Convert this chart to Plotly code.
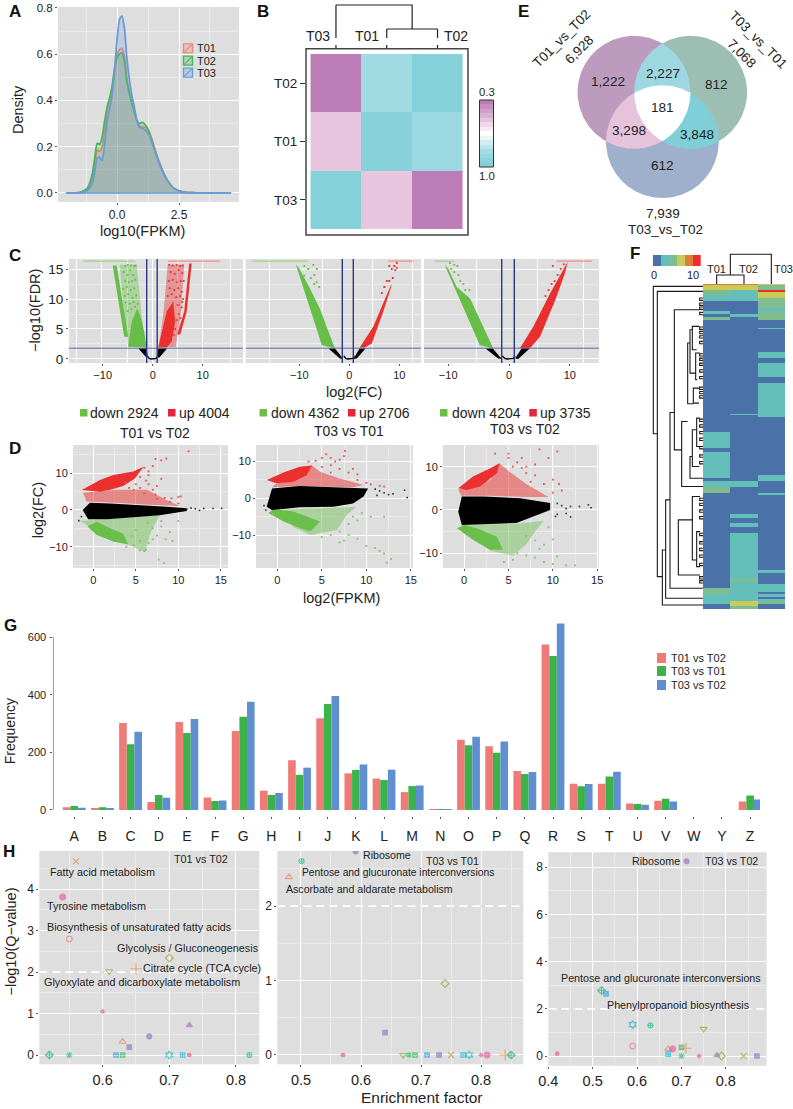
import numpy as np
import plotly.graph_objects as go

W, H = 793, 1109
FONT = "Liberation Sans"
INK = "#222222"
GREY = "#DEDEDE"

# ---------- A: density ----------
dens_x = [-2.06,-1.5,-1.2,-1.0,-.9,-.8,-.7,-.6,-.5,-.4,-.3,-.2,-.1,0,.1,.2,.3,.4,.5,.6,.7,.8,.9,1,1.1,1.2,1.3,1.4,1.5,1.7,2,2.3,2.6,3,4.6]
dens_t01 = [0,.002,.015,.06,.12,.185,.18,.2,.27,.35,.4,.45,.54,.6,.62,.625,.59,.49,.44,.39,.35,.31,.29,.285,.285,.28,.265,.235,.2,.135,.06,.02,.006,.001,0]
dens_t02 = [0,.003,.02,.08,.15,.215,.21,.24,.31,.37,.41,.46,.53,.585,.6,.605,.57,.48,.43,.39,.35,.315,.3,.305,.3,.285,.26,.23,.195,.13,.06,.02,.006,.001,0]
dens_t03 = [0,.001,.01,.04,.09,.15,.155,.14,.21,.31,.36,.42,.53,.66,.75,.765,.71,.58,.49,.42,.37,.315,.285,.28,.275,.265,.25,.22,.19,.13,.06,.02,.006,.001,0]

# ---------- B: correlation ----------
corr_labels_x = ["T03", "T01", "T02"]
corr_labels_y = ["T03", "T01", "T02"]
corr_z = [[.98, .51, .30], [.51, .97, .88], [.30, .86, .98]]
corr_levels = [1.0, .95, .9, .85, .8, .75, .7, .65, .6, .55, .5, .45, .4, .35, .3]

# ---------- E: venn ----------
venn_counts = ["1,222", "2,227", "812", "181", "3,298", "3,848", "612"]

# ---------- C: volcano outlines and sparse points ----------
v1_green_strip = ([-8, -7.2, -4.9, -5.7], [15.6, 15.6, 3.7, 3.7])
v1_green_haze = ([-6.6, -3.2, -2.2, -1.4, -4.9, -5.8], [15.7, 15.7, 7.3, 2, 2, 8])
v1_green_main = ([-4.9, -4.2, -3.1, -2.5, -1.7, -1.2], [2.05, 6.2, 8.4, 7.3, 4.6, 1.9])
v1_red_strip = ([7.3, 7.8, 6.8, 5.5, 4.9, 6.3], [15.9, 15.9, 7.9, 4.1, 4.1, 7.9])
v1_red_haze = ([3, 6.3, 5.6, 4.6, 1.2, 2.2], [15.7, 15.7, 7.5, 2, 2, 8])
v1_red_main = ([1.1, 1.8, 2.8, 4.1, 4.5, 3.8, 2.8], [1.9, 4.6, 7.9, 9.6, 6.2, 2.9, 1.9])
v1_black_l = ([-2.9, -1.2, -1.0, -1.2], [1.8, 1.8, .3, .2])
v1_black_r = ([1.0, 1.1, 2.9, 1.3], [.3, 1.8, 1.8, .2])
v1_sg_x = [-5.5,-5,-4.3,-3.7,-3.4,-5.8,-5,-4.5,-3.9,-5.5,-4.8,-4.1,-3.5,-5.9,-5.2,-4.4,-3.7,-5.6,-4.9,-4,-3.3,-5.4,-4.6,-3.8,-3,-5,-4.3,-3.5,-6.1,-5.8]
v1_sg_y = [15.5,15.7,15.6,15.5,15.6,14.5,14,14.8,14,13,12.8,13,13.2,11.7,12,11.5,11.8,10.5,10.8,10.2,10.6,9.4,9.2,9.5,9.2,8,8.3,8.7,9,7.5]
v1_sr_x = [3.3,4,4.8,5.5,6,3.6,4.4,5.2,5.9,3.2,4,4.8,5.6,6.2,3.4,4.3,5.1,5.8,3,3.8,4.7,5.5,6.1,5,5.8,5.2,4.8,5.5,4.5,4.2,5.9]
v1_sr_y = [15.7,15.6,15.7,15.5,15.6,14.5,14.2,14.8,14.3,13,13.2,12.8,13,13,11.8,11.5,11.8,11.2,10.5,10.8,10.3,10.5,10,9,8.6,7.5,6.5,6.8,5,4,9.5]
v1_top_green = [-13.9, -3.5]
v1_top_red = [3.1, 13.5]

v2_green_main = ([-10.7, -5.5, -2.9, -5.9, -8.2, -10], [15.8, 2.3, 1.8, 8.4, 12.3, 15.1])
v2_black_l = ([-4.2, -2.9, -1.2, -1.9], [1.8, 1.8, 0, .1])
v2_red_main = ([2.1, 4.8, 7.5, 8.5, 8.3, 6.8, 4.5, 3.1], [1.9, 5.4, 10.7, 12.6, 11.8, 7.9, 2.6, 1.9])
v2_black_r = ([.8, 2.1, 3.3, 1.5], [0, 1.8, 1.8, .1])
v2_sg_x = [-9,-8.2,-7.2,-7,-7.7,-6.5,-6.5,-6,-7,-9]
v2_sg_y = [15.5,15,15.7,14,13.5,12.8,15,12,12.5,13.9]
v2_sr_x = [9.5,9,8.5,9.2,8,8.7,8,7.5,7,6.5,9.5]
v2_sr_y = [16,15.5,15,14.8,15.5,13.5,13,13,12,11,15.2]
v2_top_green = [-19.5, -8.2]
v2_top_red = [7.8, 12.8]

v3_green_main = ([-10.6, -4.8, -2.6, -6.4, -8.6, -10], [15.7, 2.3, 1.8, 10.1, 12, 15.1])
v3_black_l = ([-3.9, -2.7, -1.2, -1.8], [1.8, 1.8, 0, .1])
v3_red_main = ([1.8, 4, 6.75, 9.65, 9.2, 7.6, 5.1, 3.45], [1.8, 5.4, 10.9, 16.2, 14.3, 9.8, 3.7, 1.8])
v3_black_r = ([1, 2.1, 3.45, 1.5], [.1, 1.8, 1.8, 0])
v3_sg_x = [-9.7,-9,-8.5,-9,-8.3,-8,-7.5,-7.2,-6.5,-9.5]
v3_sg_y = [16,15.7,15.5,14.5,14,13,12.5,11.5,11.5,15]
v3_sr_x = [8.5,8,7.5,7,6.5,6,9,7.8,7.2]
v3_sr_y = [15,14,13,12.5,11.5,10.5,15.8,12,15.5]
v3_top_green = [-12.2, -9]
v3_top_red = [7.8, 13.6]

centre_x = [-1.1, -.7, -.3, 0, .3, .7, 1.0]
centre_y = [.5, .1, 0, 0, 0, .1, .5]

# ---------- D: MA outlines and sparse points ----------
m1_black = ([-1.25,-.4,2,5.5,8.6,11,11,7.8,4.7,1.6,-.6], [0,2,1.8,1.4,.9,.45,-.3,-1.4,-2,-2.5,-2.5])
m1_red_d = ([-1.37,.78,2.35,4.7,5.9,4.9,3.5,2,.8], [5.45,8.2,9.5,10.5,11.8,8.6,6.5,5.5,5])
m1_red_l = ([-1.2,2.7,6.3,8.6,10.2,6.7,2.7,-.8], [4.7,5.5,5.5,2.7,1.1,1.4,2,2.3])
m1_green_d = ([-.7,.4,2.35,4.1,3.5,2,.4], [-4.5,-6.8,-8.6,-9.3,-6.4,-5,-3.2])
m1_green_l = ([-1.6,1.6,5.5,7.8,6.7,6.1,3.9,2.35], [-2.9,-2.5,-1.8,-1.4,-6.4,-11.4,-9.3,-8.6])
m1_sr_x = [6,6.5,7,7.3,8,8.6,5.5,6.2,5.5,6.5,7,7.5,7.3,8.4,9.2,10,10.3,11.2,9,10,8,6.5,7.5,6,5,4.8,4.2,3.8]
m1_sr_y = [11.5,10.5,12,13.9,13.5,14,9,8,6,7,5.5,6.5,4.2,3.3,3.2,3.5,3.7,16,2.2,1.8,8.5,9.5,3,4.5,7,5.5,6,7.3]
m1_sg_x = [6.2,6,6.5,7,7.5,7.7,8.3,8.5,9.3,7,8,9,5,4.5,5.5,10,6.4,8,3.9,4.8,5.5]
m1_sg_y = [-10.8,-11.2,-9,-8,-7,-13.5,-14.5,-8,-8.5,-5,-4.5,-6,-5.5,-7,-8.5,-3,-3.5,-3,-10,-9.5,-11]
m1_sk_x = [11,12,12.5,13,14.1,15.1,11.5,-1.4,-1.7]
m1_sk_y = [.2,.3,-.1,.4,.4,.45,.5,-1.8,-2.9]

m2_black = ([-.6,2.5,6.3,9.3,10.2,9.7,8.5,6.3,2.5,-.6,-1.2], [2.7,3.35,3,2.7,2.7,.5,-1.4,-2.3,-2.45,-3.2,-2.3])
m2_red_d = ([-1.2,.7,2.5,3.9,3.3,1.8,-.1], [5,7,8.6,8.9,6.3,4.5,4.1])
m2_red_l = ([-.6,-.1,.7,3.9,4.8,7,9.7,8.5,2.5], [3,4.1,7,8.9,7.2,5.4,3.6,3,3.35])
m2_green_d = ([-1,.7,2.5,3.7,4.8,1.8,-.45], [-4,-6.3,-8.1,-9,-6.3,-3.6,-3])
m2_green_l = ([-.1,8.9,7.8,6.7,3.7,1.8], [-3.2,-2.3,-4.5,-8.6,-10,-7.8])
m2_sr_x = [3.5,4.3,5,5.5,6,6.5,7,7.5,7.6,6,5,7,8,8.5,9,10,10.5,11.5,12,9,6]
m2_sr_y = [10,10.2,11,12,11,10,10.5,11.5,12.9,9,8.5,8,7,8,5,4.2,3.8,3.4,3.2,6.5,7]
m2_sg_x = [7,8,9,10,11,11.5,12,12.8,12.3,8,9,9.5,10.5,12,7.5,7,6,5,8.5]
m2_sg_y = [-9,-10,-11,-13,-13.5,-14.3,-15,-16.5,-17.5,-7,-6,-4,-5,-5,-11.5,-12,-10,-10.5,-5]
m2_sk_x = [11,11.5,12,12.5,14.3,14.6,13,11.2,-1.3,-1.5]
m2_sk_y = [2.5,2,1.5,1,2.2,.2,1.2,.8,-3.2,-2]

m3_black = ([-.65,-.25,2.2,6.3,9.7,9.7,5.9,2.2,-.25], [-.4,3.1,3.1,2.7,1.6,0,-3,-3.2,-3.5])
m3_red_d = ([-.65,1,2.9,4,3.7,1.8,.3], [5,7.7,9.6,10.8,8.5,5.4,4.6])
m3_red_l = ([-.3,-.65,3,4,5,7,9.5,7,3], [3.3,4.7,7,10.8,9,6,3,3,3.3])
m3_green_d = ([-.8,1,2.9,4.4,3.7,1.4,0], [-4.2,-6.9,-9.2,-9.2,-6.2,-4.2,-3.5])
m3_green_l = ([-.3,3,6,9,8,7,5.5,3], [-3.4,-3.3,-3.2,-2.5,-5,-8,-10.5,-9.5])
m3_sr_x = [5,6,6.5,7,8,8.5,10.5,9.5,8,9,10,10.7,11,10,5.5,7,6.5,7.5,5,3.5]
m3_sr_y = [12,11,12,10,10.5,14,13.5,12,8,6,7,6,4.5,4,10,8.5,9.7,6.5,13,13]
m3_sg_x = [6,7,8,9,10,11.5,12.5,9,10,7,8,9.5,5.5,4.5,8.5,10.5]
m3_sg_y = [-10,-10.5,-11,-12,-12.5,-12.8,-12.8,-8,-6.8,-6,-7,-4,-11.5,-12,-9,-10.7]
m3_sk_x = [11,11.5,12,13,14.3,10.5,14,10.3,10.5,11.5,12]
m3_sk_y = [1,.3,.8,.8,.5,1.5,1.2,-1.5,-1,-.8,-1.6]

# ---------- F: gene clusters (row edges, colour class per column) ----------
gene_edges = [163,167,182,187,195,205,215,235,245,252,262,272,295,298,366,385,400,443,460,552,555,563,607,622,655,665,735,745,752,760,772,790,795,852,865,878,892,908,1020,
              1028,1047,1057,1061,1073,1085,1093,1100,1106,1113,1123,1129,1137]
gene_t01 = [4,3,2,2,1,1,0,0,1,0,2,0,0,0,0,0,0,0,0,0,0,0,1,1,0,1,1,0,1,1,2,0,0,0,0,0,0,0, 0,0,0,0,0,2,2,1,1,1,1,0,0]
gene_t02 = [4,3,1,1,1,1,0,0,0,1,0,0,0,0,0,0,0,0,0,1,0,0,0,0,0,0,0,0,1,1,0,0,0,1,0,1,0,1, 1,1,2,1,1,1,1,1,1,1,3,3,2]
gene_t03 = [3,2,5,3,3,2,2,1,2,2,2,0,1,0,1,0,1,0,1,1,1,0,0,0,0,0,1,1,0,0,0,1,0,0,0,0,0,0, 1,0,0,0,1,1,0,1,0,1,2,0,0]
gene_cols = ["T01", "T02", "T03"]
gene_brackets = [(460,170,609,612,472),(472,185,609,1040,487),(487,960,497,1125,609),(497,810,510,1105,609),
                 (510,548,523,1075,609),(523,240,598,660,545),(545,575,563,770,609),(563,340,570,522,580),
                 (570,300,577,430,587),(577,290,598,360,590),(587,370,600,450,592),(580,475,597,520,597),
                 (570,680,577,745,609),(577,600,590,710,598),(590,565,600,650,600),(535,870,577,1035,600),
                 (577,800,600,990,590),(590,905,600,1010,600)]
gene_leaf_rows = [205,220,232,248,292,305,318,335,372,385,400,420,440,472,485,498,568,585,605,625,650,675,695,805,820,840,860,910,935,955,975,1000,1040,1052]

# ---------- G: functional classes ----------
cog_letters = list("ABCDEFGHIJKLMNOPQRSTUVWYZ")
cog_t01_t02 = [9,5,302,28,306,43,274,67,173,319,127,109,62,1,244,221,135,575,91,91,22,32,0,0,29]
cog_t03_t01 = [14,9,228,52,267,31,324,52,122,368,139,104,83,2,225,199,125,535,82,116,21,39,0,0,50]
cog_t03_t02 = [8,7,272,42,316,33,376,59,147,396,158,140,85,3,254,238,132,648,90,133,18,29,0,0,36]

# ---------- H: enrichment ----------
h1_x = [.56,.54,.55,.70,.61,.65,.60,.73,.67,.63,.64,.52,.55,.62,.63,.70,.72,.73,.82]
h1_y = [4.67,3.81,2.8,2.34,2.02,2.08,1.05,.72,.45,.32,.19,0,0,0,0,0,0,0,0]
h1_k = ["xt","pk","co","do","td","cr","sd","tu","pu","to","sq","dc","as","sx","sg","hx","sc","rd","cc"]
h2_x = [.591,.501,.48,.74,.64,.57,.67,.68,.69,.71,.73,.75,.77,.78,.80,.81,.84,.85]
h2_y = [2.735,2.606,2.39,.96,.3,0,0,0,0,0,0,0,0,0,0,0,0,0]
h2_k = ["pu","cc","to","do","sq","rd","td","as","sg","sx","sq","xt","sc","hx","sd","pk","cr","dc"]
h3_x = [.7115,.52,.53,.59,.63,.75,.59,.67,.68,.70,.71,.67,.42,.70,.74,.78,.79,.84,.87]
h3_y = [8.25,2.78,2.63,1.33,1.3,1.15,.42,.3,.3,.37,.33,.08,.1,0,0,.03,0,0,0]
h3_k = ["pu","dc","sx","hx","cc","td","co","to","pk","sg","cr","sc","rd","as","sd","tu","do","xt","sq"]
STYLES = {"xt": ("x-thin-open", "#B79F4C", 6), "pk": ("circle", "#E5679F", 6), "co": ("circle-open", "#E88088", 5.5),
          "do": ("diamond-open", "#A3A33C", 6), "td": ("triangle-down-open", "#7DB03F", 6), "cr": ("cross-thin-open", "#E8923A", 8),
          "sd": ("diamond", "#D86AA8", 3), "tu": ("triangle-up", "#A779B8", 5.5), "pu": ("circle", "#9578C0", 5),
          "to": ("triangle-up-open", "#E28A5A", 6), "sq": ("square", "#8088C8", 4.5), "dc": ("diamond-cross-open", "#2EB87D", 6),
          "as": ("asterisk-open", "#2EC27A", 5.5), "sx": ("square-x-open", "#30A8E0", 4.5), "sg": ("square-x-open", "#44BB66", 4.5),
          "hx": ("hexagram-open", "#18BEC8", 6), "sc": ("square-cross-open", "#22B8D8", 4.5), "rd": ("circle", "#EC5F87", 3.5),
          "cc": ("circle-cross-open", "#20BFA0", 5)}

fig = go.Figure()
shapes, annos = [], []
layout = {}
_n = [0]


def fx(p):
    return p / W


def fy(p):
    return 1 - p / H


def txt(x, y, s, size=12, anchor="center", angle=0, bold=False, color=INK):
    annos.append(dict(x=fx(x), y=fy(y), xref="paper", yref="paper", text=f"<b>{s}</b>" if bold else s, showarrow=False,
                      xanchor=anchor, yanchor="middle", textangle=angle, borderpad=0,
                      font=dict(size=size, family=FONT, color=color)))


def rect(x0, y0, x1, y1, fill, line=None, lw=0, layer="above"):
    shapes.append(dict(type="rect", xref="paper", yref="paper", x0=fx(x0), x1=fx(x1), y0=fy(y1), y1=fy(y0), fillcolor=fill,
                       line=dict(color=line or fill, width=lw), layer=layer))


def seg(x0, y0, x1, y1, color, lw):
    shapes.append(dict(type="line", xref="paper", yref="paper", x0=fx(x0), x1=fx(x1), y0=fy(y0), y1=fy(y1), line=dict(color=color, width=lw)))


def panel(x0, x1, y0, y1, xr, yr, xtick=None, ytick=None, xsize=12, ysize=12, xminor=None, yminor=None, xgrid=None,
          ygrid=True, bg=True, xshow=True, yshow=True, xtext=None, ytext=None):
    _n[0] += 1
    i = _n[0]
    s = "" if i == 1 else str(i)
    xa = dict(domain=[fx(x0), fx(x1)], range=xr, anchor="y" + s, zeroline=False, showgrid=False, fixedrange=True, showline=False,
              automargin=False, tickfont=dict(size=xsize, family=FONT, color=INK), ticks="", showticklabels=False)
    ya = dict(domain=[fy(y1), fy(y0)], range=yr, anchor="x" + s, zeroline=False, showgrid=False, fixedrange=True, showline=False,
              automargin=False, tickfont=dict(size=ysize, family=FONT, color=INK), ticks="", showticklabels=False)
    if xtick is not None:
        xa.update(tickmode="array", tickvals=xtick, showgrid=xgrid is None and bg)
        if xtext:
            xa["ticktext"] = xtext
        if xshow:
            xa.update(showticklabels=True, ticks="outside", ticklen=2, tickcolor="#555", tickwidth=1)
        xa.update(gridcolor="white", gridwidth=1.4)
    if ytick is not None:
        ya.update(tickmode="array", tickvals=ytick, showgrid=ygrid and bg, gridcolor="white", gridwidth=1.4)
        if ytext:
            ya["ticktext"] = ytext
        if yshow:
            ya.update(showticklabels=True, ticks="outside", ticklen=2, tickcolor="#555", tickwidth=1)
    if xgrid is not None:
        xa["minor"] = dict(tickmode="array", tickvals=xgrid, showgrid=True, gridcolor="white", gridwidth=1.4, ticks="")
    elif xminor is not None:
        xa["minor"] = dict(tickmode="array", tickvals=xminor, showgrid=True, gridcolor="#EBEBEB", gridwidth=.7, ticks="")
    if yminor is not None:
        ya["minor"] = dict(tickmode="array", tickvals=yminor, showgrid=True, gridcolor="#EBEBEB", gridwidth=.7, ticks="")
    layout["xaxis" + s] = xa
    layout["yaxis" + s] = ya
    if bg:
        rect(x0, y0, x1, y1, GREY, layer="below")
    return dict(xaxis="x" + s, yaxis="y" + s)


def poly(ax, pts, color):
    fig.add_trace(go.Scatter(x=list(pts[0]) + [pts[0][0]], y=list(pts[1]) + [pts[1][0]], mode="lines", fill="toself", fillcolor=color,
                             line=dict(width=0, color=color), hoverinfo="skip", **ax))


def dots(ax, xs, ys, color, size=2):
    fig.add_trace(go.Scatter(x=xs, y=ys, mode="markers", marker=dict(color=color, size=size, symbol="square", line=dict(width=0)), hoverinfo="skip", **ax))


def line(ax, xs, ys, color, w=1.2, dash=None):
    fig.add_trace(go.Scatter(x=xs, y=ys, mode="lines", line=dict(color=color, width=w, dash=dash), hoverinfo="skip", **ax))


# ---- A ----
ax = panel(58, 239, 7, 202, [-2.38, 4.92], [-.039, .804], xtick=[0, 2.5], ytick=[0, .2, .4, .6, .8], xsize=12, ysize=11.5,
           xtext=["0.0", "2.5"], ytext=["0.0", "0.2", "0.4", "0.6", "0.8"], xminor=[-1.25, 1.25, 3.75], yminor=[.1, .3, .5, .7])
for name, vals, col, fc in [("T01", dens_t01, "#F4837D", "rgba(244,131,125,.27)"), ("T02", dens_t02, "#45B75A", "rgba(69,183,90,.27)"),
                            ("T03", dens_t03, "#6A9BD8", "rgba(106,155,216,.27)")]:
    fig.add_trace(go.Scatter(x=dens_x, y=vals, name=name, mode="lines", fill="tozeroy", fillcolor=fc,
                             line=dict(color=col, width=1.8, shape="spline", smoothing=.6), **ax))
line(ax, [dens_x[0], dens_x[-1]], [0, 0], "#6A9BD8", 1.6)
for lab, yy, col, fc in [("T01", 48.3, "#F4837D", "rgba(244,131,125,.3)"), ("T02", 60.7, "#45B75A", "rgba(69,183,90,.3)"), ("T03", 72.7, "#6A9BD8", "rgba(106,155,216,.3)")]:
    rect(183.5, yy - 4.5, 192.5, yy + 4.5, fc, col, 1.3)
    seg(183.5, yy + 4.5, 192.5, yy - 4.5, col, 1.1)
    txt(196, yy, lab, 11, "left")
txt(18, 110, "Density", 14.5, angle=-90)
txt(142.7, 230.7, "log10(FPKM)", 14.5)

# ---- B ----
cs = [[0, "#BC7DB6"], [.3, "#E8C6DF"], [.5, "#FFFFFF"], [.8, "#A0DAE2"], [1, "#80CFD9"]]
ax = panel(306, 468, 48.7, 235, [-.59, 2.6], [-.6, 2.59], xtick=[0, 1, 2], ytick=[0, 1, 2], xshow=False, ysize=13.5, ytext=corr_labels_y, bg=False)
fig.add_trace(go.Heatmap(x=[0, 1, 2], y=[0, 1, 2], z=corr_z, zmin=.3, zmax=1, colorscale=cs, showscale=False, hoverinfo="skip", **ax))
layout["yaxis" + ax["yaxis"][1:]].update(ticklen=5, tickcolor="#333", tickwidth=1.4)
rect(306, 48.7, 468, 235, "rgba(0,0,0,0)", "#444", 1.5)
ax = panel(306, 468, 0, 48.7, [-.59, 2.6], [0, 48.7], bg=False)
line(ax, [1, 1, None, 1, 1, None, 2, 2, None, 2, 2, None, 0, 0, None, 0, 0], [19.7, 10.7, None, 3.7, 0, None, 19.7, 10.7, None, 3.7, 0, None, 43.7, 10.7, None, 3.7, 0], "#222", 1.2)
line(ax, [1, 1, 2, 2, None, 0, 0, 1.5, 1.5], [19.7, 19.7, 19.7, 19.7, None, 43.7, 43.7, 43.7, 19.7], "#222", 1.2)
for lab, xx in zip(corr_labels_x, [318, 367, 456]):
    txt(xx, 36, lab, 14)
ax = panel(479.5, 493.5, 100, 167, [-.5, .5], [1.025, .275], bg=False)
fig.add_trace(go.Heatmap(x=[0], y=corr_levels, z=[[v] for v in corr_levels], zmin=.3, zmax=1, colorscale=cs, showscale=False, hoverinfo="skip", **ax))
rect(479.5, 100, 493.5, 167, "rgba(0,0,0,0)", "#333", 1)
txt(486.5, 92, "0.3", 11.3)
txt(486.5, 176, "1.0", 11.3)

# ---- E ----
circles = [(634, 92.3, 56.5), (690.6, 92.3, 56.5), (662.4, 141.7, 56.4)]
ax = panel(570, 750, 30, 205, [570, 750], [205, 30], bg=False)


def region(idx):
    pts = []
    th = np.linspace(0, 2 * np.pi, 900, endpoint=False)
    for i in idx:
        cx, cy, r = circles[i]
        for xx, yy in zip(cx + r * np.cos(th), cy + r * np.sin(th)):
            if all((xx - circles[j][0]) ** 2 + (yy - circles[j][1]) ** 2 <= circles[j][2] ** 2 for j in idx if j != i):
                pts.append((xx, yy))
    p = np.array(pts)
    c = p.mean(axis=0)
    p = p[np.argsort(np.arctan2(p[:, 1] - c[1], p[:, 0] - c[0]))]
    return p[:, 0].tolist(), p[:, 1].tolist()


for idx, col in [((2,), "#9EB0CC"), ((1,), "#9DBFB3"), ((0,), "#BC9BBF"), ((0, 1), "#9DD8E0"), ((0, 2), "#E5C3DD"), ((1, 2), "#7FCFD8"), ((0, 1, 2), "#FFFFFF")]:
    poly(ax, region(idx), col)
for lab, (xx, yy) in zip(venn_counts, [(607.7, 81.7), (663.3, 73.3), (716.7, 84), (662.3, 107.3), (629.3, 130.7), (697.3, 134), (662, 165.7)]):
    txt(xx, yy, lab, 13.6)
txt(561.7, 38.3, "T01_vs_T02", 13.5, angle=-45)
txt(579.3, 49.3, "6,928", 13.5, angle=-45)
txt(758, 39.3, "T03_vs_T01", 13.5, angle=45)
txt(741.7, 53.3, "7,068", 13.5, angle=45)
txt(663.3, 213.3, "7,939", 13.5)
txt(665, 229, "T03_vs_T02", 13.5)

# ---- C ----
G, R = "#66BE49", "#E9302F"
GH, RH = "rgba(110,195,85,.45)", "rgba(233,60,60,.45)"
vy = [-.67, 16.67]
vt = [0, 5, 10, 15]
vpanels = [
    (69, 243, [-16.74, 18.06], [-10, 0, 10], [-10.3, 0, 10, -15.2, -5, 5, 15.5], True,
     (-1.2, .9), [(v1_green_haze, GH), (v1_red_haze, RH), (v1_green_strip, G), (v1_green_main, G), (v1_red_strip, R), (v1_red_main, R), (v1_black_l, "#000"), (v1_black_r, "#000")],
     (v1_sg_x, v1_sg_y), (v1_sr_x, v1_sr_y), v1_top_green, v1_top_red),
    (245.7, 421, [-20.72, 14.34], [-10, 0, 10], [-15.9, -5.3, 4.7, 12.7], False,
     (-1.4, .8), [(v2_green_main, G), (v2_red_main, R), (v2_black_l, "#000"), (v2_black_r, "#000")],
     (v2_sg_x, v2_sg_y), (v2_sr_x, v2_sr_y), v2_top_green, v2_top_red),
    (424, 599, [-13.98, 14.8], [-10, 0, 10], [-5.3, 4.7, 12.2], False,
     (-1.2, .87), [(v3_green_main, G), (v3_red_main, R), (v3_black_l, "#000"), (v3_black_r, "#000")],
     (v3_sg_x, v3_sg_y), (v3_sr_x, v3_sr_y), v3_top_green, v3_top_red),
]
for x0, x1, xr, xt, xg, showy, vl, polys, sg, sr, tg, tr in vpanels:
    ax = panel(x0, x1, 259, 363, xr, vy, xtick=xt, ytick=vt, xsize=11, ysize=13.5, xgrid=xg, yshow=showy, yminor=[2.5, 7.5, 12.5])
    for p, c in polys:
        poly(ax, p, c)
    line(ax, centre_x, centre_y, "#000", 1.4)
    dots(ax, sg[0], sg[1], G, 1.8)
    dots(ax, sr[0], sr[1], R, 1.8)
    line(ax, tg, [16.3, 16.3], "#9CD286", 1.2)
    line(ax, tr, [16.3, 16.3], "#F08E8E", 1.2)
    line(ax, xr, [1.8, 1.8], "#5A6AAE", 1)
    line(ax, [vl[0], vl[0]], vy, "#2C3A86", 1.4)
    line(ax, [vl[1], vl[1]], vy, "#2C3A86", 1.4)
txt(35, 311, "\u2212log10(FDR)", 14.5, angle=-90)
txt(354, 391.7, "log2(FC)", 14.5)

# ---- D ----
mpanels = [
    (73, 228, [-2.39, 15.85], [17.7, -15.8], [-10, 0, 10], [-15, -5, 5, 15],
     (m1_green_l, m1_red_l, m1_green_d, m1_red_d, m1_black), (m1_sr_x, m1_sr_y), (m1_sg_x, m1_sg_y), (m1_sk_x, m1_sk_y)),
    (256, 413, [-2.4, 15.25], [14.5, -18.95], [-10, 0, 10], [-15, -5, 5],
     (m2_green_l, m2_red_l, m2_green_d, m2_red_d, m2_black), (m2_sr_x, m2_sr_y), (m2_sg_x, m2_sg_y), (m2_sk_x, m2_sk_y)),
    (443, 599, [-2.37, 15.2], [15, -13.4], [-10, 0, 10], [-5, 5],
     (m3_green_l, m3_red_l, m3_green_d, m3_red_d, m3_black), (m3_sr_x, m3_sr_y), (m3_sg_x, m3_sg_y), (m3_sk_x, m3_sk_y)),
]
for x0, x1, xr, yr, yt, ym, polys, sr, sg, sk in mpanels:
    ax = panel(x0, x1, 445, 568, xr, [yr[1], yr[0]], xtick=[0, 5, 10, 15], ytick=yt, xsize=11, ysize=11, xminor=[2.5, 7.5, 12.5], yminor=ym)
    gl, rl, gd, rd, bk = polys
    poly(ax, gl, "rgba(118,196,92,.5)")
    poly(ax, rl, "rgba(233,48,47,.5)")
    poly(ax, gd, "#6ABF4B")
    poly(ax, rd, "#EC2F2F")
    poly(ax, bk, "#000000")
    dots(ax, sr[0], sr[1], "#E9504F", 1.8)
    dots(ax, sg[0], sg[1], "#7CC663", 1.8)
    dots(ax, sk[0], sk[1], "#333", 1.6)
for xa, tx, xb, ux, down, up in [(80, 89.3, 168, 177.7, "down 2924", "up 4004"), (259.5, 270, 348, 358, "down 4362", "up 2706"), (440, 450.7, 529.3, 539.3, "down 4204", "up 3735")]:
    rect(xa, 409, xa + 7.5, 416.5, "#6ABD45")
    txt(tx, 412.7, down, 14, "left")
    rect(xb, 409, xb + 7.5, 416.5, "#E5263A")
    txt(ux, 412.7, up, 14, "left")
txt(155, 433, "T01 vs T02", 14)
txt(349, 430.7, "T03 vs T01", 14)
txt(525, 429, "T03 vs T02", 14)
txt(38.3, 510, "log2(FC)", 14.5, angle=-90)
txt(341, 598.3, "log2(FPKM)", 14.5)

# ---- F ----
fcs = ["#4A72A8", "#64BFBA", "#80BD8E", "#C9CB58", "#E07B3A", "#EE2E2E"]
fscale = []
for i, c in enumerate(fcs):
    fscale += [[i / 6, c], [(i + 1) / 6, c]]
ax = panel(703, 785, 284, 609, [-.5, 2.5], [1137, 163], bg=False)
fig.add_trace(go.Heatmap(x=[0, 1, 2], y=gene_edges, z=[list(t) for t in zip(gene_t01, gene_t02, gene_t03)], zmin=0, zmax=6,
                         colorscale=fscale, showscale=False, hoverinfo="skip", **ax))
ax = panel(651, 703, 284, 609, [453, 609], [1137, 163], bg=False)
bx, by = [], []
for h, y1, h1, y2, h2 in gene_brackets:
    bx += [h1, h, h, h2, None]
    by += [y1, y1, y2, y2, None]
for r in gene_leaf_rows:
    bx += [609, 599, 599, 609, None]
    by += [r, r, r + 7, r + 7, None]
line(ax, bx, by, "#1A1A1A", 1.1)
ax = panel(703, 785, 250, 284, [-.5, 2.5], [0, 34], bg=False)
line(ax, [0, 0, 1, 1, None, .5, .5, 2, 2], [0, 9, 9, 0, None, 9, 29.7, 29.7, 0], "#1A1A1A", 1.1)
for lab, xx in zip(gene_cols, [716, 748.7, 783]):
    txt(xx, 269, lab, 11)
ax = panel(652.7, 701, 255, 266, [-.5, 5.5], [-.5, .5], bg=False)
fig.add_trace(go.Heatmap(x=list(range(6)), y=[0], z=[list(range(6))], zmin=0, zmax=6, colorscale=fscale, showscale=False, hoverinfo="skip", **ax))
txt(654, 275, "0", 11)
txt(693, 275, "10", 11)

# ---- G ----
BARC = ["#F07A75", "#3CB34A", "#5F8FD0"]
ax = panel(53.4, 760, 620, 816, [-.74, 24.35], [-21, 660], xtick=list(range(25)), ytick=[0, 200, 400, 600], xsize=14, ysize=11, xtext=cog_letters, bg=False)
layout["xaxis" + ax["xaxis"][1:]]["ticklabelstandoff"] = 5
layout["yaxis" + ax["yaxis"][1:]]["ticklabelstandoff"] = 2
for name, vals, c in zip(["T01 vs T02", "T03 vs T01", "T03 vs T02"], [cog_t01_t02, cog_t03_t01, cog_t03_t02], BARC):
    fig.add_trace(go.Bar(x=list(range(25)), y=vals, name=name, marker=dict(color=c, line=dict(width=0)), **ax))
seg(53.4, 637, 53.4, 810, "#999", 1)
for name, yy, c in zip(["T01 vs T02", "T03 vs T01", "T03 vs T02"], [658, 671, 685], BARC):
    rect(657, yy - 5, 666, yy + 5, c)
    txt(669.5, yy, name, 11, "left")
txt(9.5, 731.7, "Frequency", 14, angle=-90)

# ---- H ----
hp = [
    (39.3, 259.3, 851, 1064.3, [.505, .835], [-.224, 4.92], [.6, .7, .8], [0, 1, 2, 3, 4], [.55, .65, .75], [.5, 1.5, 2.5, 3.5, 4.5], h1_x, h1_y, h1_k),
    (277.3, 523.3, 851, 1064.3, [.4606, .8703], [-.125, 2.74], [.5, .6, .7, .8], [0, 1, 2], [.55, .65, .75, .85], [.5, 1.5, 2.5], h2_x, h2_y, h2_k),
    (548.3, 766.7, 852.3, 1065.7, [.4, .892], [-.41, 8.63], [.4, .5, .6, .7, .8], [0, 2, 4, 6, 8], [.45, .55, .65, .75, .85], [1, 3, 5, 7], h3_x, h3_y, h3_k),
]
for x0, x1, y0, y1, xr, yr, xt, yt, xm, ym, xs, ys, ks in hp:
    ax = panel(x0, x1, y0, y1, xr, yr, xtick=xt, ytick=yt, xsize=14.5, ysize=12, xminor=xm, yminor=ym, xtext=[f"{v:.1f}" for v in xt])
    line(ax, xr, [2, 2], GREY, 2.4)
    line(ax, xr, [2, 2], "white", 1.8, "8px,5px")
    cols = [STYLES[k][1] for k in ks]
    fig.add_trace(go.Scatter(x=xs, y=ys, mode="markers", hoverinfo="skip", marker=dict(symbol=[STYLES[k][0] for k in ks], size=[STYLES[k][2] for k in ks],
                             color=cols, line=dict(color=cols, width=1.2)), **ax))
for xx, yy, s, sz in [(49.3, 872.3, "Fatty acid metabolism", 10.8), (173.3, 859.3, "T01 vs T02", 10.8), (46, 906, "Tyrosine metabolism", 10.8),
                      (46, 927, "Biosynthesis of unsaturated fatty acids", 10.8), (116, 947.7, "Glycolysis / Gluconeogenesis", 10.8),
                      (141.7, 967.7, "Citrate cycle (TCA cycle)", 10.8), (42.7, 982.3, "Glyoxylate and dicarboxylate metabolism", 10.8),
                      (361.7, 855, "Ribosome", 10.6), (425, 860.7, "T03 vs T01", 10.6), (301, 872.3, "Pentose and glucuronate interconversions", 10.3),
                      (285, 889, "Ascorbate and aldarate metabolism", 10.6), (630.7, 860.7, "Ribosome", 10.7), (704, 860.7, "T03 vs T02", 10.7),
                      (560.3, 978.3, "Pentose and glucuronate interconversions", 10.7), (606, 1005.3, "Phenylpropanoid biosynthesis", 10.7)]:
    txt(xx, yy, s, sz, "left")
txt(10.5, 942, "\u2212log10(Q\u2212value)", 14.5, angle=-90)
txt(421, 1097.5, "Enrichment factor", 15.5)

# ---- panel letters ----
for s, xx, yy in [("A", 15, 11), ("B", 263, 11), ("C", 15, 255), ("D", 15, 448), ("E", 523, 11), ("F", 635, 253), ("G", 10, 625), ("H", 9, 851)]:
    txt(xx, yy, s, 17, bold=True, color="#111")

fig.update_layout(width=W, height=H, margin=dict(l=0, r=0, t=0, b=0), autosize=False, showlegend=False, paper_bgcolor="white",
                  plot_bgcolor="rgba(0,0,0,0)", barmode="group", bargap=.19, bargroupgap=0, shapes=shapes, annotations=annos,
                  font=dict(family=FONT, color=INK), **layout)
fig.write_html("out.html", config={"displayModeBar": False}, post_script="document.body.style.margin='0';")
